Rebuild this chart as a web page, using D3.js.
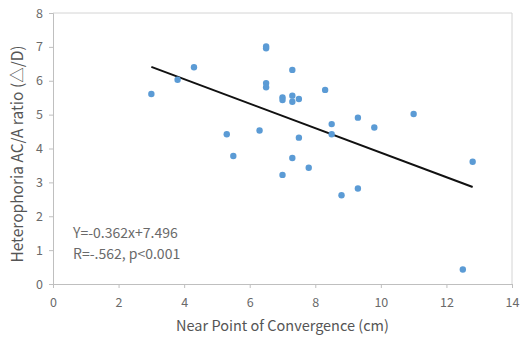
<!DOCTYPE html>
<html>
<head>
<meta charset="utf-8">
<script src="https://cdn.jsdelivr.net/npm/d3@7"></script>
<style>
  body { margin: 0; background: #fff; }
  svg { display: block; font-family: "Noto Sans CJK KR", "Open Sans", sans-serif; }
</style>
</head>
<body>
<div id="chart"></div>
<script>
// NPC (cm) vs AC/A ratio
const npc = [3.0, 3.8, 4.3, 5.3, 5.5, 6.3, 6.5, 6.5, 6.5, 6.5, 7.0, 7.0, 7.0,
             7.3, 7.3, 7.3, 7.3, 7.5, 7.5, 7.8, 8.3, 8.5, 8.5, 8.8, 9.3, 9.3,
             9.8, 11.0, 12.5, 12.8];
const acaRatio = [5.61, 6.03, 6.40, 4.42, 3.78, 4.53, 6.96, 7.01, 5.93, 5.81, 5.51, 5.43, 3.22,
                  6.32, 5.56, 5.38, 3.72, 5.46, 4.32, 3.43, 5.73, 4.72, 4.42, 2.62, 4.91, 2.82,
                  4.62, 5.02, 0.43, 3.61];
const xTicks = [0, 2, 4, 6, 8, 10, 12, 14];
const yTicks = [0, 1, 2, 3, 4, 5, 6, 7, 8];
const slope = -0.362, intercept = 7.496;
const fitRange = [3.0, 12.8];
const eqLines = ["Y=-0.362x+7.496", "R=-.562, p<0.001"];

const width = 524, height = 342;
const margin = {top: 13, right: 12, bottom: 58, left: 53};

const svg = d3.select("#chart").append("svg")
    .attr("width", width)
    .attr("height", height);

const x = d3.scaleLinear().domain([0, 14]).range([margin.left, width - margin.right]);
const y = d3.scaleLinear().domain([0, 8]).range([height - margin.bottom, margin.top]);

// plot box (top + right)
svg.append("path")
    .attr("d", `M${x(0)},${y(8)}H${x(14)}V${y(0)}`)
    .attr("fill", "none")
    .attr("stroke", "#d4d4d4")
    .attr("stroke-width", 1);

const xAxis = svg.append("g")
    .attr("transform", `translate(0,${y(0)})`)
    .call(d3.axisBottom(x).tickValues(xTicks).tickSize(4).tickPadding(10));
const yAxis = svg.append("g")
    .attr("transform", `translate(${x(0)},0)`)
    .call(d3.axisLeft(y).tickValues(yTicks).tickSize(4).tickPadding(6));

[xAxis, yAxis].forEach(g => {
    g.select(".domain").attr("stroke", "#bfbfbf");
    g.selectAll(".tick line").attr("stroke", "#bfbfbf");
    g.selectAll(".tick text")
        .attr("fill", "#6a6a6a")
        .attr("font-size", 12.5)
        .attr("font-family", "Noto Sans CJK KR, Open Sans, sans-serif");
});

// regression line
svg.append("line")
    .attr("x1", x(fitRange[0])).attr("y1", y(slope * fitRange[0] + intercept))
    .attr("x2", x(fitRange[1])).attr("y2", y(slope * fitRange[1] + intercept))
    .attr("stroke", "#111")
    .attr("stroke-width", 2);

svg.append("g")
    .selectAll("circle")
    .data(npc)
    .join("circle")
    .attr("cx", d => x(d))
    .attr("cy", (d, i) => y(acaRatio[i]))
    .attr("r", 3.2)
    .attr("fill", "#5b9bd5");

svg.append("g")
    .selectAll("text")
    .data(eqLines)
    .join("text")
    .attr("x", 73)
    .attr("y", (d, i) => 238 + i * 21)
    .attr("fill", "#6a6a6a")
    .attr("font-size", 14)
    .text(d => d);

svg.append("text")
    .attr("x", (x(0) + x(14)) / 2)
    .attr("y", 331)
    .attr("text-anchor", "middle")
    .attr("fill", "#555")
    .attr("font-size", 14.5)
    .text("Near Point of Convergence (cm)");

svg.append("text")
    .attr("transform", `translate(23,154) rotate(-90)`)
    .attr("text-anchor", "middle")
    .attr("fill", "#555")
    .attr("font-size", 15.5)
    .text("Heterophoria AC/A ratio (\u25B3/D)");
</script>
</body>
</html>
